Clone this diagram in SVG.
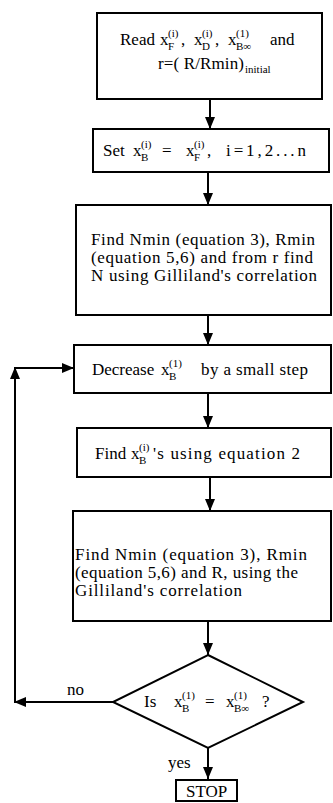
<svg xmlns="http://www.w3.org/2000/svg" width="333" height="803" viewBox="0 0 333 803">
<defs>
<style>
rect.box{fill:#fff;stroke:#000;stroke-width:2}
.t{font-family:'Liberation Serif','Times New Roman','DejaVu Serif',serif;font-size:17px;fill:#000}
.big{font-size:17px}
.s{font-family:'Liberation Serif','Times New Roman','DejaVu Serif',serif;font-size:11px;fill:#000}
.c{fill:none;stroke:#000;stroke-width:2}
</style>
<marker id="ah" markerUnits="userSpaceOnUse" markerWidth="12" markerHeight="10" refX="12" refY="5" orient="auto">
<path d="M0,0 L12,5 L0,10 z" fill="#000"/>
</marker>
</defs>
<rect width="333" height="803" fill="#fff"/>

<g id="connectors">
<path class="c" d="M210,99 V129" marker-end="url(#ah)"/>
<path class="c" d="M208,172 V205" marker-end="url(#ah)"/>
<path class="c" d="M208,315 V345" marker-end="url(#ah)"/>
<path class="c" d="M208,393 V428" marker-end="url(#ah)"/>
<path class="c" d="M210,477 V511" marker-end="url(#ah)"/>
<path class="c" d="M208,621 V655" marker-end="url(#ah)"/>
<path class="c" d="M208,748 V779" marker-end="url(#ah)"/>
<path class="c" d="M113,702 H14" marker-end="url(#ah)"/>
<path class="c" d="M15,702 V367" marker-end="url(#ah)"/>
<path class="c" d="M14,368 H74" marker-end="url(#ah)"/>
</g>

<g id="read">
<rect class="box" x="97" y="13" width="225" height="86"/>
<text class="t" x="120" y="45">Read</text>
<text class="t" x="160" y="45">x</text><text class="s" x="168" y="37">(i)</text><text class="s" x="168" y="50">F</text><text class="t" x="181" y="45">,</text>
<text class="t" x="194" y="45">x</text><text class="s" x="202" y="37">(i)</text><text class="s" x="202" y="50">D</text><text class="t" x="215" y="45">,</text>
<text class="t" x="228" y="45">x</text><text class="s" x="236" y="37">(1)</text><text class="s" x="236" y="50">B∞</text>
<text class="t" x="270" y="45">and</text>
<text class="t" x="158" y="69" font-size="13" textLength="86">r=( R/Rmin)</text>
<text class="s" x="245" y="73">initial</text>
</g>

<g id="set">
<rect class="box" x="93" y="129" width="236" height="43"/>
<text class="t" x="103" y="156">Set</text>
<text class="t" x="133" y="156">x</text><text class="s" x="141" y="148">(i)</text><text class="s" x="141" y="161">B</text>
<text class="t" x="162" y="156">=</text>
<text class="t" x="186" y="156">x</text><text class="s" x="194" y="148">(i)</text><text class="s" x="194" y="161">F</text>
<text class="t" x="207" y="156">,</text>
<text class="t" x="226" y="156" textLength="80">i=1,2...n</text>
</g>

<g id="find1">
<rect class="box" x="76" y="205" width="255" height="110"/>
<text class="t big" x="91" y="245" textLength="224">Find Nmin (equation 3), Rmin</text>
<text class="t big" x="91" y="263" textLength="222">(equation 5,6) and from r find</text>
<text class="t big" x="91" y="281" textLength="226">N using Gilliland's correlation</text>
</g>

<g id="decrease">
<rect class="box" x="74" y="345" width="257" height="48"/>
<text class="t" x="92" y="375">Decrease</text>
<text class="t" x="161" y="375">x</text><text class="s" x="169" y="367">(1)</text><text class="s" x="169" y="380">B</text>
<text class="t" x="201" y="375" textLength="107">by a small step</text>
</g>

<g id="findxb">
<rect class="box" x="77" y="428" width="254" height="49"/>
<text class="t" x="95" y="459">Find</text>
<text class="t" x="131" y="459">x</text><text class="s" x="139" y="451">(i)</text><text class="s" x="139" y="464">B</text>
<text class="t" x="153" y="459" textLength="147">'s using equation 2</text>
</g>

<g id="find2">
<rect class="box" x="73" y="511" width="258" height="110"/>
<text class="t big" x="75" y="560" textLength="232">Find Nmin (equation 3), Rmin</text>
<text class="t big" x="75" y="578" textLength="223">(equation 5,6) and R, using the</text>
<text class="t big" x="75" y="596" textLength="167">Gilliland's correlation</text>
</g>

<g id="decision">
<path d="M208,655 L303,702 L208,748 L113,702 Z" fill="#fff" stroke="#000" stroke-width="2"/>
<text class="t" x="144" y="707">Is</text>
<text class="t" x="174" y="707">x</text><text class="s" x="182" y="699">(1)</text><text class="s" x="182" y="712">B</text>
<text class="t" x="205" y="707">=</text>
<text class="t" x="226" y="707">x</text><text class="s" x="234" y="699">(1)</text><text class="s" x="234" y="712">B∞</text>
<text class="t" x="262" y="707">?</text>
</g>

<g id="labels">
<text class="t" x="67" y="695">no</text>
<text class="t" x="168" y="768">yes</text>
</g>

<g id="stop">
<rect class="box" x="176" y="780" width="61" height="21"/>
<text class="t" x="186" y="797">STOP</text>
</g>
</svg>
